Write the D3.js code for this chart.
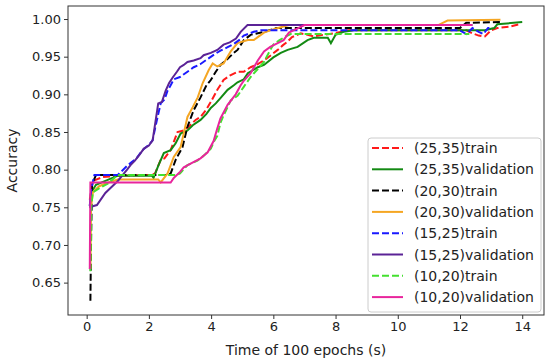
<!DOCTYPE html>
<html><head><meta charset="utf-8">
<script src="https://cdn.jsdelivr.net/npm/d3@7"></script>
<style>html,body{margin:0;padding:0;background:#fff;}svg{display:block;font-family:"DejaVu Sans",sans-serif;}</style>
</head><body><svg id="c" width="550" height="364"></svg>
<script>
// ---- data (time in s, accuracy) ----
const train2535 = [[0.1,0.76],[0.2,0.785],[0.5,0.79],[1.0,0.792],[2.1,0.793],[2.2,0.795],[2.38,0.813],[2.5,0.815],[2.7,0.826],[2.92,0.85],[3.12,0.852],[3.3,0.858],[3.5,0.866],[3.66,0.87],[3.85,0.88],[3.99,0.89],[4.2,0.906],[4.4,0.919],[4.6,0.925],[4.85,0.93],[5.05,0.93],[5.27,0.936],[5.5,0.94],[5.8,0.948],[6.14,0.959],[6.3,0.965],[6.46,0.97],[6.6,0.976],[6.88,0.981],[7.1,0.979],[7.3,0.977],[7.6,0.979],[7.94,0.981],[8.4,0.985],[12.2,0.985],[12.4,0.981],[12.6,0.978],[12.8,0.977],[13.0,0.985],[13.2,0.988],[13.6,0.99],[13.9,0.993]];
const val2535 = [[0.1,0.752],[0.15,0.77],[0.3,0.78],[0.6,0.785],[1.0,0.792],[2.1,0.792],[2.15,0.789],[2.3,0.805],[2.48,0.822],[2.7,0.826],[2.86,0.835],[3.02,0.848],[3.24,0.852],[3.41,0.859],[3.66,0.866],[3.85,0.874],[3.99,0.882],[4.15,0.888],[4.3,0.895],[4.53,0.906],[4.73,0.912],[4.85,0.916],[5.05,0.92],[5.18,0.928],[5.5,0.936],[5.7,0.939],[6.0,0.949],[6.24,0.955],[6.46,0.959],[6.78,0.963],[7.1,0.972],[7.3,0.975],[7.75,0.975],[7.85,0.968],[8.0,0.979],[8.26,0.983],[8.6,0.985],[12.8,0.985],[13.1,0.988],[13.2,0.993],[14.0,0.996]];
const train2030 = [[0.12,0.626],[0.14,0.70],[0.17,0.78],[0.3,0.793],[2.6,0.793],[2.7,0.795],[2.86,0.813],[3.08,0.83],[3.24,0.857],[3.44,0.879],[3.66,0.896],[3.85,0.912],[3.99,0.919],[4.15,0.93],[4.3,0.939],[4.5,0.946],[4.73,0.955],[4.85,0.959],[5.05,0.972],[5.27,0.979],[5.7,0.983],[6.1,0.988],[12.0,0.988],[12.2,0.995],[13.3,0.996]];
const val2030 = [[0.12,0.668],[0.14,0.75],[0.2,0.77],[0.4,0.778],[0.7,0.783],[1.0,0.787],[2.3,0.787],[2.38,0.783],[2.6,0.795],[2.8,0.817],[3.02,0.83],[3.24,0.87],[3.41,0.883],[3.57,0.896],[3.73,0.915],[3.92,0.932],[4.05,0.941],[4.2,0.937],[4.4,0.941],[4.63,0.957],[4.85,0.968],[5.18,0.972],[5.37,0.972],[5.5,0.976],[5.7,0.982],[5.9,0.985],[6.24,0.989],[6.5,0.992],[11.3,0.992],[11.6,0.998],[13.3,0.999]];
const train1525 = [[0.1,0.752],[0.15,0.775],[0.25,0.793],[1.0,0.793],[1.1,0.797],[1.3,0.805],[1.45,0.81],[1.6,0.815],[1.8,0.826],[2.0,0.833],[2.12,0.839],[2.2,0.855],[2.28,0.87],[2.38,0.888],[2.5,0.893],[2.6,0.905],[2.7,0.912],[2.8,0.92],[3.0,0.923],[3.24,0.93],[3.44,0.936],[3.65,0.94],[3.89,0.947],[4.1,0.953],[4.3,0.958],[4.5,0.962],[4.73,0.967],[4.9,0.972],[5.05,0.978],[5.37,0.983],[5.6,0.985],[12.0,0.985],[12.2,0.98],[12.4,0.988],[12.6,0.983],[12.75,0.98],[12.9,0.988],[13.0,0.988]];
const val1525 = [[0.08,0.75],[0.33,0.753],[0.6,0.769],[0.8,0.777],[1.0,0.785],[1.2,0.795],[1.3,0.80],[1.41,0.806],[1.55,0.812],[1.7,0.82],[1.84,0.828],[2.0,0.832],[2.12,0.839],[2.22,0.866],[2.3,0.888],[2.42,0.89],[2.54,0.905],[2.65,0.915],[2.76,0.922],[2.9,0.93],[3.0,0.936],[3.12,0.939],[3.24,0.943],[3.44,0.945],[3.66,0.948],[3.76,0.952],[3.99,0.955],[4.2,0.959],[4.4,0.966],[4.6,0.969],[4.8,0.974],[4.95,0.983],[5.17,0.992],[12.4,0.992]];
const train1020 = [[0.12,0.665],[0.14,0.75],[0.2,0.77],[0.4,0.775],[0.7,0.782],[1.0,0.793],[2.9,0.793],[3.0,0.795],[3.24,0.806],[3.56,0.812],[3.75,0.818],[3.99,0.828],[4.1,0.838],[4.2,0.845],[4.3,0.862],[4.4,0.872],[4.53,0.883],[4.63,0.892],[4.85,0.898],[5.05,0.91],[5.27,0.923],[5.53,0.935],[5.7,0.943],[5.85,0.955],[6.0,0.966],[6.2,0.972],[6.4,0.977],[6.56,0.98],[7.0,0.98],[12.3,0.98]];
const val1020 = [[0.1,0.668],[0.12,0.783],[2.7,0.783],[2.8,0.789],[3.0,0.797],[3.12,0.803],[3.34,0.808],[3.66,0.815],[3.89,0.823],[4.08,0.838],[4.2,0.855],[4.3,0.868],[4.53,0.886],[4.79,0.9],[4.95,0.912],[5.05,0.918],[5.27,0.928],[5.5,0.945],[5.7,0.957],[5.9,0.963],[6.14,0.968],[6.33,0.972],[6.5,0.982],[6.8,0.988],[7.0,0.992],[12.4,0.992]];

const seriesNames = ["(25,35)train","(25,35)validation","(20,30)train","(20,30)validation","(15,25)train","(15,25)validation","(10,20)train","(10,20)validation"];
const seriesData = [train2535,val2535,train2030,val2030,train1525,val1525,train1020,val1020];
const seriesColors = ["#ff1a1a","#138a13","#000000","#f5a623","#1a1aff","#5b2396","#44e030","#e8259c"];
const seriesDashed = [true,false,true,false,true,false,true,false];
const xTicks = [0,2,4,6,8,10,12,14];
const yTicks = [0.65,0.70,0.75,0.80,0.85,0.90,0.95,1.00];
const xLabel = "Time of 100 epochs (s)";
const yLabel = "Accuracy";

// ---- layout ----
const L=68,R=544,T=6,B=315;
const svg=d3.select("#c");
const x=d3.scaleLinear().domain([-0.6,14.7]).range([L,R]);
const y=d3.scaleLinear().domain([0.607,1.0173]).range([B,T]);

const xa=svg.append("g").attr("transform",`translate(0,${B})`)
  .call(d3.axisBottom(x).tickValues(xTicks).tickFormat(d3.format("d")).tickSize(4).tickPadding(3));
const ya=svg.append("g").attr("transform",`translate(${L},0)`)
  .call(d3.axisLeft(y).tickValues(yTicks).tickFormat(d3.format(".2f")).tickSize(4).tickPadding(3));
[xa,ya].forEach(a=>{a.select(".domain").remove();a.selectAll("text").attr("font-size",13).attr("fill","#222").attr("font-family","DejaVu Sans");a.selectAll("line").attr("stroke","#333");});

const line=d3.line().x(d=>x(d[0])).y(d=>y(d[1]));
const g=svg.append("g");
seriesData.forEach((s,i)=>{
  g.append("path").datum(s).attr("d",line).attr("fill","none")
   .attr("stroke",seriesColors[i]).attr("stroke-width",2)
   .attr("stroke-dasharray",seriesDashed[i]?"7,3":null);
});
svg.append("rect").attr("x",L).attr("y",T).attr("width",R-L).attr("height",B-T)
  .attr("fill","none").attr("stroke","#333").attr("stroke-width",1);

svg.append("text").attr("x",(L+R)/2).attr("y",355).attr("text-anchor","middle")
  .attr("font-size",14).attr("fill","#222").text(xLabel);
svg.append("text").attr("transform",`translate(17,${(T+B)/2}) rotate(-90)`).attr("text-anchor","middle")
  .attr("font-size",14).attr("fill","#222").text(yLabel);

// legend
const lg=svg.append("g");
lg.append("rect").attr("x",368).attr("y",138).attr("width",173).attr("height",174).attr("rx",3)
  .attr("fill","#fff").attr("fill-opacity",0.85).attr("stroke","#ccc");
seriesNames.forEach((n,i)=>{
  const cy=148+i*21.3;
  lg.append("line").attr("x1",372).attr("x2",403).attr("y1",cy).attr("y2",cy)
    .attr("stroke",seriesColors[i]).attr("stroke-width",2).attr("stroke-dasharray",seriesDashed[i]?"7,3":null);
  lg.append("text").attr("x",414).attr("y",cy+5).attr("font-size",14).attr("fill","#222").text(n);
});
</script></body></html>
